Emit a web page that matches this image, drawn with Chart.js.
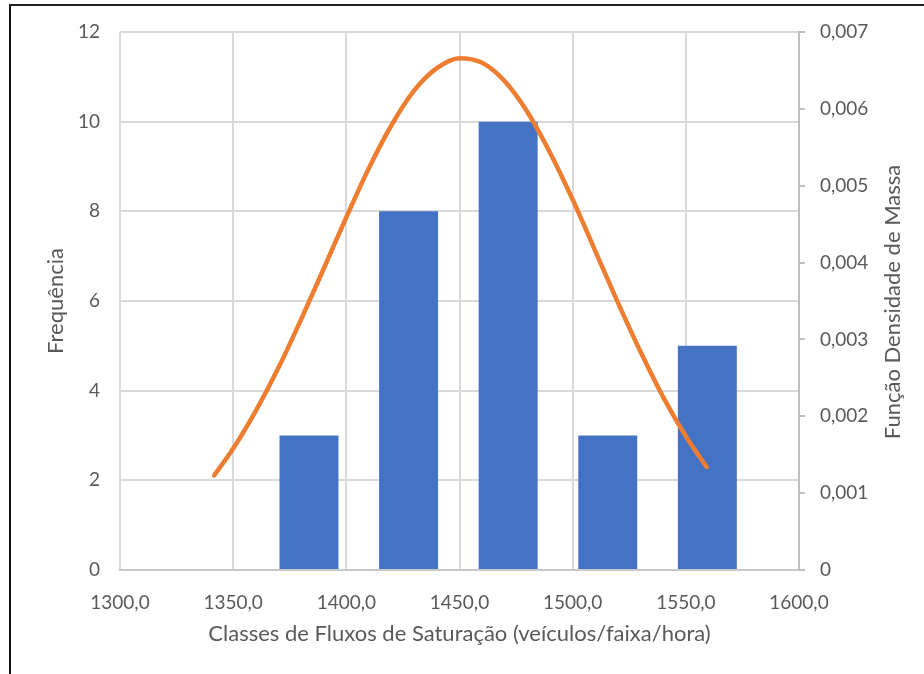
<!DOCTYPE html>
<html>
<head>
<meta charset="utf-8">
<script src="https://cdn.jsdelivr.net/npm/chart.js@4/dist/chart.umd.min.js"></script>
<style>
  html, body { margin: 0; padding: 0; background: #ffffff; }
  #wrap { position: relative; width: 924px; height: 674px; overflow: hidden; }
  #chart { position: absolute; left: 0; top: 0; }
  #frame { position: absolute; left: 9px; top: 4px; width: 940px; height: 700px;
           border-left: 2px solid #111; border-top: 2px solid #222; pointer-events: none; }
</style>
</head>
<body>
<div id="wrap">
  <canvas id="chart" width="924" height="674"></canvas>
  <div id="frame"></div>
</div>
<script>
// ---- data ----
const classCenters = [1383.5, 1427.5, 1471.5, 1515.5, 1559.5];
const frequencies  = [3, 8, 10, 3, 5];

const densityX = [1341.6, 1350, 1360, 1370, 1380, 1390, 1400, 1410, 1420, 1430,
                  1440, 1450, 1460, 1470, 1480, 1490, 1500, 1510, 1520, 1530,
                  1540, 1550, 1559.2];
const densityY = [0.00123, 0.00158, 0.00207, 0.00263, 0.00326, 0.00392, 0.00459, 0.00523, 0.00579, 0.00624,
                  0.00653, 0.00666, 0.00660, 0.00636, 0.00596, 0.00543, 0.00482, 0.00415, 0.00348, 0.00284,
                  0.00225, 0.00174, 0.00134];

const xTitle  = 'Classes de Fluxos de Saturação (veículos/faixa/hora)';
const yTitle  = 'Frequência';
const y2Title = 'Função Densidade de Massa';

// ---- build datasets ----
const barData  = classCenters.map((x, i) => ({ x: x, y: frequencies[i] }));
const lineData = densityX.map((x, i) => ({ x: x, y: densityY[i] }));

const FONT = 'Lato, "Open Sans", "DejaVu Sans", sans-serif';
const TXT = '#595959';
const GRID = '#D9D9D9';

// right-axis title reads bottom-to-top in the reference
const rightTitlePlugin = {
  id: 'rightTitle',
  afterDraw(chart) {
    const s = chart.scales.y2;
    const ctx = chart.ctx;
    ctx.save();
    ctx.fillStyle = TXT;
    ctx.font = '22px ' + FONT;
    ctx.textAlign = 'center';
    ctx.textBaseline = 'middle';
    ctx.translate(s.right - 31, (s.top + s.bottom) / 2 + 1);
    ctx.rotate(-Math.PI / 2);
    ctx.fillText(y2Title, 0, 0);
    ctx.restore();
  }
};

new Chart(document.getElementById('chart'), {
  type: 'bar',
  plugins: [rightTitlePlugin],
  data: {
    datasets: [
      {
        type: 'line',
        label: y2Title,
        data: lineData,
        yAxisID: 'y2',
        xAxisID: 'x',
        borderColor: '#ED7D31',
        borderWidth: 4.5,
        borderCapStyle: 'round',
        pointRadius: 0,
        tension: 0.4,
        cubicInterpolationMode: 'monotone',
        fill: false,
        order: 0
      },
      {
        type: 'bar',
        label: yTitle,
        data: barData,
        yAxisID: 'y',
        xAxisID: 'x',
        backgroundColor: '#4472C4',
        borderWidth: 0,
        categoryPercentage: 1.0,
        barPercentage: 0.592,
        order: 1
      }
    ]
  },
  options: {
    responsive: false,
    animation: false,
    layout: { padding: { top: 32, left: 0, right: 0, bottom: 0 } },
    plugins: { legend: { display: false }, tooltip: { enabled: false } },
    scales: {
      x: {
        type: 'linear',
        position: 'bottom',
        min: 1300, max: 1600,
        offset: false,
        grid: { color: GRID, lineWidth: 2, drawTicks: false, offset: false },
        border: { display: true, color: '#C8C8C8', width: 2 },
        ticks: {
          stepSize: 50, padding: 21, color: TXT, maxRotation: 0,
          font: { family: FONT, size: 19 },
          callback: v => v.toFixed(1).replace('.', ',')
        },
        title: {
          display: true, text: xTitle, color: TXT,
          font: { family: FONT, size: 22 },
          padding: { top: 0, bottom: 27 }
        },
        afterFit: s => { s.height = 104; }
      },
      y: {
        type: 'linear',
        position: 'left',
        min: 0, max: 12,
        grid: { color: GRID, lineWidth: 2, drawTicks: false },
        border: { display: false },
        ticks: {
          stepSize: 2, padding: 20, color: TXT,
          font: { family: FONT, size: 19 }
        },
        title: {
          display: true, text: yTitle, color: TXT,
          font: { family: FONT, size: 22 },
          padding: { top: 43, bottom: 0 }
        },
        afterFit: s => { s.width = 120; }
      },
      y2: {
        type: 'linear',
        position: 'right',
        min: 0, max: 0.007,
        grid: { drawOnChartArea: false, drawTicks: true, tickLength: 6, color: '#BFBFBF', lineWidth: 2 },
        border: { display: true, color: '#BFBFBF', width: 2 },
        ticks: {
          stepSize: 0.001, padding: 15, color: TXT,
          font: { family: FONT, size: 19 },
          callback: v => (Math.abs(v) < 1e-9 ? '0' : v.toFixed(3).replace('.', ','))
        },
        title: { display: false, text: y2Title },
        afterFit: s => { s.width = 125; }
      }
    }
  }
});
</script>
</body>
</html>
